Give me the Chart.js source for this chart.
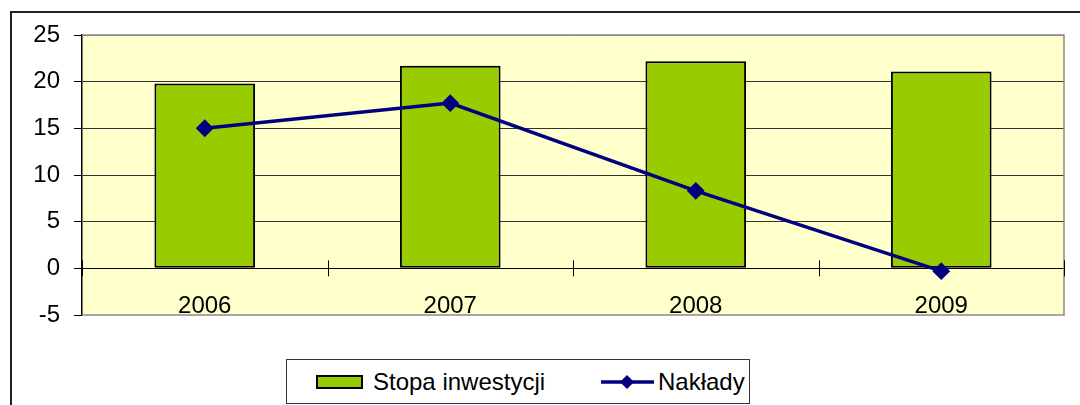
<!DOCTYPE html>
<html>
<head>
<meta charset="utf-8">
<script src="https://cdn.jsdelivr.net/npm/chart.js@4.4.0/dist/chart.umd.min.js"></script>
<style>
  body { margin:0; width:1080px; height:405px; overflow:hidden; background:#fff; position:relative; font-family:"Liberation Sans", Arial, sans-serif; }
  #ramka { position:absolute; left:10px; top:11px; width:1100px; height:420px; border-top:2px solid #222; border-left:2px solid #222; }
  #wykres { position:absolute; left:0; top:0; }
  #legenda { position:absolute; left:286px; top:359px; width:464px; height:45px; border:1px solid #333; box-sizing:border-box;
             font-size:24px; color:#000; background:#fff; }
  .poz { position:absolute; top:0; height:43px; display:flex; align-items:center; white-space:nowrap; }
</style>
</head>
<body>
<div id="ramka"></div>
<canvas id="wykres" width="1080" height="405"></canvas>
<div id="legenda"></div>
<script>
// dane z wykresu
const lata = ['2006', '2007', '2008', '2009'];
const stopaInwestycji = [19.8, 21.7, 22.2, 21.1];
const naklady = [15.0, 17.7, 8.3, -0.3];
const osY = { min: -5, max: 25, krok: 5 };

const czcionka = { family: 'Liberation Sans', size: 24 };

// tło obszaru wykresu + ramka
const tloPlugin = {
    id: 'tlo',
    beforeDraw(chart) {
        const a = chart.chartArea, c = chart.ctx;
        c.save();
        c.fillStyle = '#FFFFCC';
        c.fillRect(a.left, a.top, a.right - a.left, a.bottom - a.top);
        c.restore();
    },
    beforeDatasetsDraw(chart) {
        const a = chart.chartArea, c = chart.ctx, x = chart.scales.x;
        c.save();
        c.strokeStyle = '#8a8a8a'; c.lineWidth = 1.5;
        c.beginPath();
        c.moveTo(a.left, a.top); c.lineTo(a.right, a.top); c.lineTo(a.right, a.bottom); c.lineTo(a.left, a.bottom);
        c.stroke();
        // kreski osi X przecinające linię zera
        const y0 = chart.scales.y.getPixelForValue(0);
        const pol = (x.getPixelForValue(1) - x.getPixelForValue(0)) / 2;
        c.strokeStyle = '#000'; c.lineWidth = 1;
        c.beginPath();
        for (let i = 0; i <= lata.length; i++) {
            const px = Math.round(x.getPixelForValue(0) - pol + i * 2 * pol) + 0.5;
            c.moveTo(px, y0 - 8); c.lineTo(px, y0 + 8);
        }
        c.stroke();
        c.restore();
    }
};

const wykres = new Chart(document.getElementById('wykres'), {
    data: {
        labels: lata,
        datasets: [
            { type: 'line', label: 'Nakłady', data: naklady, order: 0,
              borderColor: '#000080', backgroundColor: '#000080', borderWidth: 3.5, tension: 0,
              pointStyle: 'rectRot', pointRadius: 6.5, pointBackgroundColor: '#000080', pointBorderColor: '#000080' },
            { type: 'bar', label: 'Stopa inwestycji', data: stopaInwestycji, order: 1,
              backgroundColor: '#99CC00', borderColor: '#000', borderWidth: 2, borderSkipped: false,
              categoryPercentage: 1, barPercentage: 0.41 }
        ]
    },
    options: {
        responsive: false, animation: false, devicePixelRatio: 1,
        layout: { padding: { left: 0, top: 35, right: 16, bottom: 90 } },
        plugins: { legend: { display: false }, tooltip: { enabled: false } },
        scales: {
            x: {
                type: 'category', position: { y: 0 }, offset: true,
                grid: { drawOnChartArea: false, drawTicks: false },
                border: { display: true, color: '#000', width: 1 },
                ticks: { font: czcionka, color: '#000', padding: 24 }
            },
            y: {
                min: osY.min, max: osY.max,
                ticks: { stepSize: osY.krok, font: czcionka, color: '#000', padding: 14 },
                grid: {
                    color: ctx => ctx.tick.value === osY.min ? 'rgba(0,0,0,0)' : (ctx.tick.value === osY.max ? '#8a8a8a' : '#333'),
                    tickColor: '#000', tickLength: 8, lineWidth: 1
                },
                border: { color: '#000', width: 1.5 },
                afterFit(s) { s.width = 82; }
            }
        }
    },
    plugins: [tloPlugin]
});

// legenda HTML zbudowana z serii
const leg = document.getElementById('legenda');
const [linia, slupki] = wykres.data.datasets;
leg.innerHTML =
    '<div class="poz" style="left:29px">' +
      '<span style="display:inline-block;width:43px;height:10px;background:' + slupki.backgroundColor + ';border:2px solid #000;margin-right:10px"></span>' +
      slupki.label + '</div>' +
    '<div class="poz" style="left:314px">' +
      '<svg width="53" height="16" style="margin-right:4px"><line x1="0" y1="8" x2="53" y2="8" stroke="' + linia.borderColor + '" stroke-width="3.5"/>' +
      '<polygon points="26,1 33,8 26,15 19,8" fill="' + linia.borderColor + '"/></svg>' +
      linia.label + '</div>';
</script>
</body>
</html>
